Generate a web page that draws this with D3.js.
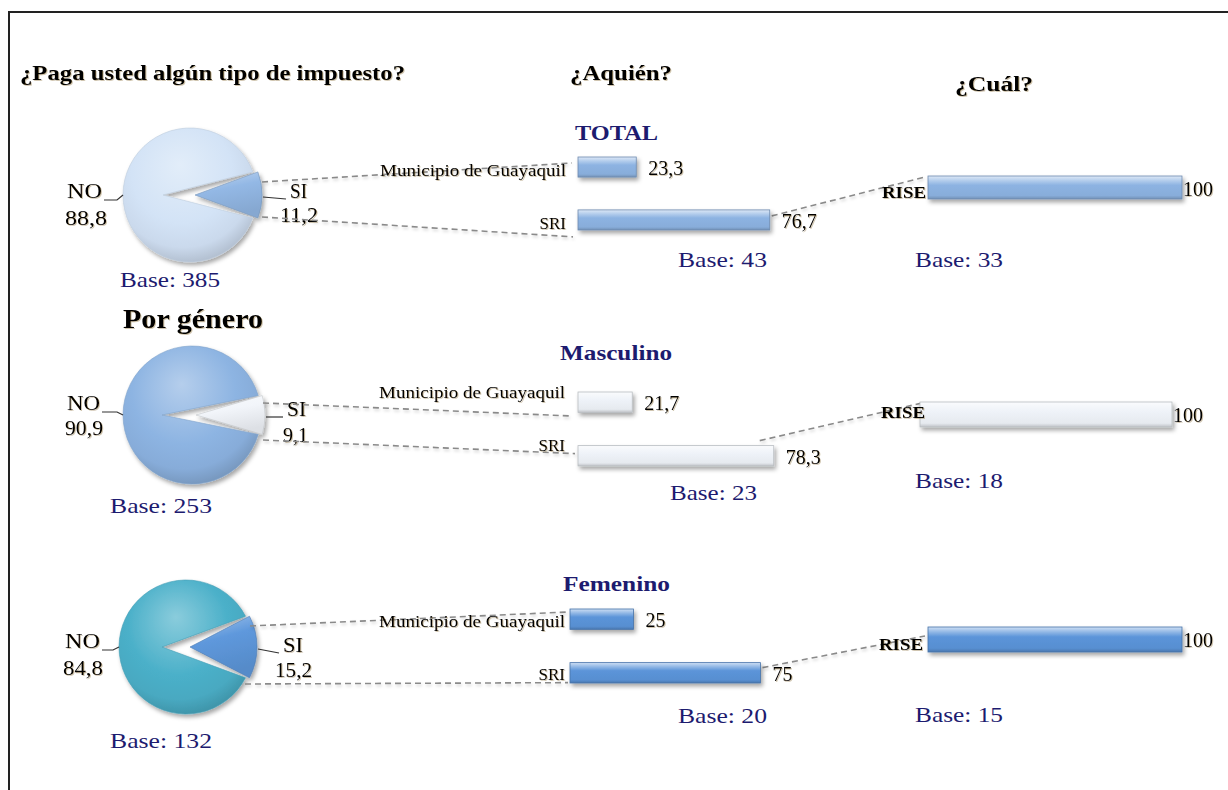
<!DOCTYPE html>
<html><head><meta charset="utf-8">
<script src="https://cdn.jsdelivr.net/npm/d3@7"></script>
<style>html,body{margin:0;padding:0;background:#fff;} svg{display:block;}</style>
</head><body>
<svg id="chart" width="1228" height="790"></svg>
<script>
// ---------------- DATA ----------------
const sections = ["TOTAL", "Masculino", "Femenino"];
const pieCategories = ["SI", "NO"];
const pieSI = [11.2, 9.1, 15.2];
const pieNO = [88.8, 90.9, 84.8];
const pieBase = [385, 253, 132];
const quienCategories = ["Municipio de Guayaquil", "SRI"];
const quienMunicipio = [23.3, 21.7, 25];
const quienSRI = [76.7, 78.3, 75];
const quienBase = [43, 23, 20];
const cualCategories = ["RISE"];
const cualRISE = [100, 100, 100];
const cualBase = [33, 18, 15];
const headTitles = ["¿Paga usted algún tipo de impuesto?", "¿Aquién?", "¿Cuál?"];
const genderTitle = "Por género";
const baseWord = "Base: ";

// ---------------- LAYOUT / STYLE ----------------
const FONT = "Liberation Serif, Times New Roman, serif";
const NAVY = "#1d1b6f";
const layout = [
  { title:{x:616.5,y:140,w:83},
    pie:{cx:190,cy:195,r:67,explode:5,notch:27,no:"#d3e3f6",si:"#93b8e5"},
    noLbl:{x:67,y:198,w:35}, noVal:{x:65,y:225,w:42},
    siLbl:{x:290,y:198,w:17}, siVal:{x:280,y:222,w:38},
    pieBase:{x:120,y:287,w:100},
    quien:{x0:578,w:250,y0:157,y1:230,pad:12,lblDy:3.5,color:"#8db3e2"},
    quienBase:{x:678,y:267,w:89},
    cual:{x0:928,w:254,y0:176,y1:199,pad:2,lblDy:5.4},
    cualBase:{x:915,y:267,w:88},
    linkTop:{dx0:0,dy0:-13,dx1:-6,dy1:6}, linkBot:{dx0:0,dy0:22,dx1:-5,dy1:27},
    linkCual:{dx0:2,dy0:6,dx1:-3,dy1:1} },
  { title:{x:616,y:360,w:112},
    pie:{cx:192,cy:415,r:69,explode:4,notch:30,no:"#8db4e2",si:"#f2f5fa"},
    noLbl:{x:67,y:410,w:33}, noVal:{x:65,y:435,w:38},
    siLbl:{x:287,y:416,w:19}, siVal:{x:283,y:442,w:25},
    pieBase:{x:110,y:513,w:102},
    quien:{x0:578,w:250,y0:392,y1:466,pad:13,lblDy:-10,color:"#eef2f8"},
    quienBase:{x:670,y:500,w:87},
    cual:{x0:920,w:252,y0:402,y1:427,pad:-5,lblDy:-1.6},
    cualBase:{x:915,y:488,w:88},
    linkTop:{dx0:-2,dy0:-12,dx1:-6,dy1:24}, linkBot:{dx0:-2,dy0:25,dx1:-3,dy1:8},
    linkCual:{dx0:-14,dy0:-5,dx1:2,dy1:1} },
  { title:{x:616.5,y:591,w:107},
    pie:{cx:186,cy:647,r:67,explode:4,notch:24,no:"#4bb0c9",si:"#5e98dc"},
    noLbl:{x:65,y:648,w:35}, noVal:{x:63,y:675,w:40},
    siLbl:{x:283,y:652,w:20}, siVal:{x:275,y:677,w:37},
    pieBase:{x:110,y:748,w:102},
    quien:{x0:570,w:254,y0:609,y1:683,pad:5,lblDy:2,color:"#5b94d9"},
    quienBase:{x:678,y:723,w:89},
    cual:{x0:928,w:254,y0:627,y1:652,pad:5,lblDy:5.4},
    cualBase:{x:915,y:722,w:88},
    linkTop:{dx0:-7,dy0:-21,dx1:-2,dy1:3}, linkBot:{dx0:-12,dy0:37,dx1:-2,dy1:20},
    linkCual:{dx0:2,dy0:5,dx1:-3,dy1:9} }
];

const loc = d3.formatLocale({decimal:",", thousands:".", grouping:[3], currency:["$",""]});
const fmt = loc.format(".1~f");

const svg = d3.select("#chart");
const defs = svg.append("defs");

// drop shadow
const sh = defs.append("filter").attr("id","shadow").attr("x","-20%").attr("y","-30%").attr("width","150%").attr("height","180%");
sh.append("feDropShadow").attr("dx",2).attr("dy",3).attr("stdDeviation",2).attr("flood-color","#000").attr("flood-opacity",0.35);
const tsh = defs.append("filter").attr("id","tshadow").attr("x","-10%").attr("y","-30%").attr("width","130%").attr("height","160%");
tsh.append("feDropShadow").attr("dx",1).attr("dy",1).attr("stdDeviation",0.6).attr("flood-color","#7a5a20").attr("flood-opacity",0.35);
const lsh = defs.append("filter").attr("id","lshadow").attr("x","-5%").attr("y","-50%").attr("width","110%").attr("height","300%");
lsh.append("feDropShadow").attr("dx",1).attr("dy",2).attr("stdDeviation",1.5).attr("flood-color","#000").attr("flood-opacity",0.18);

function T(parent, x, y, str, o = {}) {
  const t = parent.append("text").attr("x", x).attr("y", y).text(str)
    .attr("font-family", FONT).attr("font-size", o.size || 20)
    .attr("font-weight", o.weight || "normal").attr("fill", o.fill || "#000")
    .attr("text-anchor", o.anchor || "start");
  if (o.w) t.attr("textLength", o.w).attr("lengthAdjust", "spacingAndGlyphs");
  if (o.shadow) t.attr("filter", "url(#tshadow)");
  return t;
}

function radialGrad(id, color, cx, cy, r, dark) {
  const c = d3.color(color);
  const g = defs.append("radialGradient").attr("id", id).attr("gradientUnits", "userSpaceOnUse")
    .attr("cx", cx - 0.1 * r).attr("cy", cy - 0.25 * r).attr("r", 1.25 * r)
    .attr("fx", cx - 0.15 * r).attr("fy", cy - 0.45 * r);
  g.append("stop").attr("offset", "0%").attr("stop-color", d3.interpolateRgb(color, "#fff")(0.35));
  g.append("stop").attr("offset", "60%").attr("stop-color", c.formatHex());
  g.append("stop").attr("offset", "85%").attr("stop-color", c.darker(0.12 * dark).formatHex());
  g.append("stop").attr("offset", "100%").attr("stop-color", c.darker(0.45 * dark).formatHex());
  return `url(#${id})`;
}
function sliceGrad(id, color) {
  const c = d3.color(color);
  const g = defs.append("linearGradient").attr("id", id).attr("x1", 0).attr("y1", 0).attr("x2", 0.3).attr("y2", 1);
  g.append("stop").attr("offset", "0%").attr("stop-color", d3.interpolateRgb(color, "#fff")(0.45));
  g.append("stop").attr("offset", "45%").attr("stop-color", c.formatHex());
  g.append("stop").attr("offset", "100%").attr("stop-color", c.darker(0.25).formatHex());
  return `url(#${id})`;
}
function barGrad(id, color) {
  const c = d3.color(color);
  const g = defs.append("linearGradient").attr("id", id).attr("x1", 0).attr("y1", 0).attr("x2", 0).attr("y2", 1);
  g.append("stop").attr("offset", "0%").attr("stop-color", d3.interpolateRgb(color, "#fff")(0.7));
  g.append("stop").attr("offset", "22%").attr("stop-color", d3.interpolateRgb(color, "#fff")(0.3));
  g.append("stop").attr("offset", "40%").attr("stop-color", c.formatHex());
  g.append("stop").attr("offset", "85%").attr("stop-color", c.darker(0.1).formatHex());
  g.append("stop").attr("offset", "100%").attr("stop-color", c.darker(0.6).formatHex());
  return `url(#${id})`;
}

// frame
svg.append("path").attr("d", "M9,800 V12 H1228").attr("fill", "none").attr("stroke", "#222").attr("stroke-width", 2);

// headings
T(svg, 20, 80, headTitles[0], {size:22, weight:"bold", w:385, shadow:true});
T(svg, 570, 80, headTitles[1], {size:21, weight:"bold", w:102, shadow:true});
T(svg, 955, 91, headTitles[2], {size:21, weight:"bold", w:78, shadow:true});
T(svg, 123, 328, genderTitle, {size:27, weight:"bold", w:140, shadow:true});

sections.forEach((name, i) => {
  const Ls = layout[i];
  const g = svg.append("g");
  const P = Ls.pie;

  // ----- pie -----
  const siFrac = pieSI[i] / (pieSI[i] + pieNO[i]);
  const a0 = Math.PI / 2 - siFrac * Math.PI;
  const pie = d3.pie().sort(null).value(d => d.v).startAngle(a0).endAngle(a0 + 2 * Math.PI);
  const arcs = pie(pieCategories.map((c, k) => ({c, v: k === 0 ? pieSI[i] : pieNO[i]})));
  const fillNO = radialGrad(`pno${i}`, P.no, P.cx, P.cy, P.r, 1);
  const fillSI = sliceGrad(`psi${i}`, P.si);
  const pg = g.append("g").attr("filter", "url(#shadow)");
  // NO slice (perspective notch)
  const no = arcs[1], si = arcs[0];
  const siMid = (si.startAngle + si.endAngle) / 2;
  const apexX = P.cx - P.notch * Math.sin(siMid), apexY = P.cy + P.notch * Math.cos(siMid);
  const s0 = no.startAngle - Math.PI / 2, e0 = no.endAngle - Math.PI / 2;
  const pth = d3.path();
  pth.moveTo(apexX, apexY);
  pth.lineTo(P.cx + P.r * Math.cos(s0), P.cy + P.r * Math.sin(s0));
  pth.arc(P.cx, P.cy, P.r, s0, e0);
  pth.closePath();
  pg.append("path").attr("d", pth.toString()).attr("fill", fillNO)
    .attr("stroke", d3.color(P.no).darker(0.3)).attr("stroke-width", 0.6);
  // SI slice (exploded)
  const arc = d3.arc().innerRadius(0).outerRadius(P.r);
  pg.append("path").attr("d", arc(si))
    .attr("transform", `translate(${P.cx + P.explode * Math.sin(siMid)},${P.cy - P.explode * Math.cos(siMid)})`)
    .attr("fill", fillSI).attr("stroke", d3.color(P.si).darker(0.6)).attr("stroke-width", 0.6);

  // pie labels + leader lines
  const pieL = P.cx - P.r, pieR = P.cx + P.r + P.explode;
  const line = d3.line();
  g.append("path").attr("d", line([[Ls.noLbl.x + Ls.noLbl.w + 2, Ls.noLbl.y + 2], [pieL - 6, Ls.noLbl.y + 2], [pieL, P.cy]]))
    .attr("fill", "none").attr("stroke", "#333").attr("stroke-width", 1.2);
  g.append("path").attr("d", line([[pieR + 1, P.cy + 2], [Ls.siLbl.x - 4, Ls.siLbl.y + 1]]))
    .attr("fill", "none").attr("stroke", "#333").attr("stroke-width", 1.2);
  T(g, Ls.noLbl.x, Ls.noLbl.y, pieCategories[1], {size:22, w:Ls.noLbl.w, shadow:true});
  T(g, Ls.noVal.x, Ls.noVal.y, fmt(pieNO[i]), {size:22, w:Ls.noVal.w, shadow:true});
  T(g, Ls.siLbl.x, Ls.siLbl.y, pieCategories[0], {size:22, w:Ls.siLbl.w, shadow:true});
  T(g, Ls.siVal.x, Ls.siVal.y, fmt(pieSI[i]), {size:22, w:Ls.siVal.w, shadow:true});
  T(g, Ls.pieBase.x, Ls.pieBase.y, baseWord + pieBase[i], {size:22, w:Ls.pieBase.w, fill:NAVY});

  // ----- ¿A quién? bars -----
  const Q = Ls.quien;
  const xq = d3.scaleLinear().domain([0, 100]).range([Q.x0, Q.x0 + Q.w]);
  const yq = d3.scaleBand().domain(quienCategories).range([Q.y0, Q.y1]).paddingInner(0.62);
  const qVals = [quienMunicipio[i], quienSRI[i]];
  const qData = quienCategories.map((c, k) => ({c, v: qVals[k]}));

  // ----- ¿Cuál? bars -----
  const C = Ls.cual;
  const xc = d3.scaleLinear().domain([0, 100]).range([C.x0, C.x0 + C.w]);
  const yc = d3.scaleBand().domain(cualCategories).range([C.y0, C.y1]);
  const cData = cualCategories.map(c => ({c, v: cualRISE[i]}));

  // dashed connectors (behind)
  const lg = g.append("g").attr("fill", "none").attr("stroke", "#8a8a8a").attr("stroke-width", 1.6)
    .attr("stroke-dasharray", "6,4").attr("filter", "url(#lshadow)");
  lg.append("path").attr("d", line([[pieR + Ls.linkTop.dx0, P.cy + Ls.linkTop.dy0], [xq(0) + Ls.linkTop.dx1, yq(quienCategories[0]) + Ls.linkTop.dy1]]));
  lg.append("path").attr("d", line([[pieR + Ls.linkBot.dx0, P.cy + Ls.linkBot.dy0], [xq(0) + Ls.linkBot.dx1, yq(quienCategories[1]) + Ls.linkBot.dy1]]));
  lg.append("path").attr("d", line([[xq(quienSRI[i]) + Ls.linkCual.dx0, yq(quienCategories[1]) + Ls.linkCual.dy0], [xc(0) + Ls.linkCual.dx1, yc(cualCategories[0]) + Ls.linkCual.dy1]]));

  const bfill = barGrad(`bar${i}`, Q.color);
  const bstroke = d3.color(Q.color).darker(0.7).formatHex();
  g.append("g").attr("filter", "url(#shadow)").selectAll("rect").data(qData).join("rect")
    .attr("x", xq(0)).attr("y", d => yq(d.c)).attr("width", d => xq(d.v) - xq(0)).attr("height", yq.bandwidth())
    .attr("fill", bfill).attr("stroke", bstroke).attr("stroke-width", 0.8);
  g.selectAll(".qv").data(qData).join("text").attr("class", "qv")
    .attr("x", d => xq(d.v) + 12).attr("y", d => yq(d.c) + 18).text(d => fmt(d.v))
    .attr("font-family", FONT).attr("font-size", 20).attr("fill", "#000").attr("filter", "url(#tshadow)");
  const ax = g.append("g").attr("transform", `translate(${xq(0)},0)`)
    .call(d3.axisLeft(yq).tickSize(0).tickPadding(Q.pad));
  ax.select(".domain").remove();
  ax.selectAll("text").attr("font-family", FONT).attr("font-size", 17).attr("fill", "#000")
    .attr("dy", null).attr("y", Q.lblDy + 5.5).attr("filter", "url(#tshadow)")
    .each(function(d) { if (d === quienCategories[0]) d3.select(this).attr("textLength", 186).attr("lengthAdjust", "spacingAndGlyphs"); });
  T(g, Ls.quienBase.x, Ls.quienBase.y, baseWord + quienBase[i], {size:22, w:Ls.quienBase.w, fill:NAVY});

  g.append("g").attr("filter", "url(#shadow)").selectAll("rect").data(cData).join("rect")
    .attr("x", xc(0)).attr("y", d => yc(d.c)).attr("width", d => xc(d.v) - xc(0)).attr("height", yc.bandwidth())
    .attr("fill", bfill).attr("stroke", bstroke).attr("stroke-width", 0.8);
  g.selectAll(".cv").data(cData).join("text").attr("class", "cv")
    .attr("x", d => xc(d.v) + 1).attr("y", d => yc(d.c) + 20).text(d => fmt(d.v))
    .attr("font-family", FONT).attr("font-size", 20).attr("fill", "#000").attr("filter", "url(#tshadow)");
  const axc = g.append("g").attr("transform", `translate(${xc(0)},0)`)
    .call(d3.axisLeft(yc).tickSize(0).tickPadding(C.pad));
  axc.select(".domain").remove();
  axc.selectAll("text").attr("font-family", FONT).attr("font-size", 16).attr("font-weight", "bold").attr("fill", "#000")
    .attr("dy", null).attr("y", C.lblDy + 5.1).attr("textLength", 44).attr("lengthAdjust", "spacingAndGlyphs")
    .attr("filter", "url(#tshadow)");
  T(g, Ls.cualBase.x, Ls.cualBase.y, baseWord + cualBase[i], {size:22, w:Ls.cualBase.w, fill:NAVY});

  // section title
  T(g, Ls.title.x, Ls.title.y, name, {size:22, weight:"bold", fill:NAVY, anchor:"middle", w:Ls.title.w});
});
</script>
</body></html>
